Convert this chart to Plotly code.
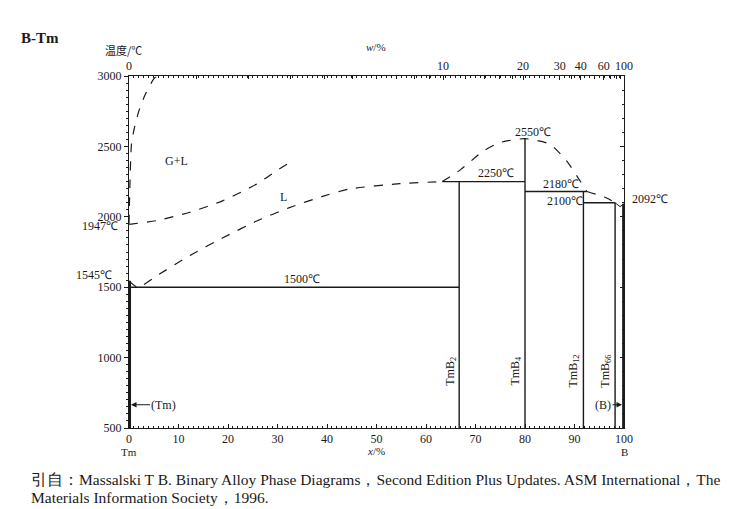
import plotly.graph_objects as go

# ---------------- data (x in at.% B, T in °C) ----------------
liq_x = [0, 1.8, 6, 12.3, 18.9, 25.8, 32.4, 39.1, 44.6, 54.7, 63.3]
liq_T = [1545, 1500, 1590, 1725, 1850, 1970, 2065, 2145, 2198, 2235, 2250]

dome_x = [63.3, 67, 71.5, 75, 80, 85, 88.4, 91.1, 92.5]
dome_T = [2250, 2335, 2465, 2528, 2555, 2516, 2398, 2256, 2180]

liq2_x = [92.5, 96.5, 98.2]
liq2_T = [2180, 2134, 2100]

eut_b_x = [98.2, 99.2, 100]
eut_b_T = [2100, 2072, 2092]

gl_x = [0, 0.8, 5.6, 12.3, 19, 25.8, 29.8, 33.1]
gl_T = [1947, 1950, 1973, 2032, 2115, 2233, 2327, 2398]

gas_x = [0, 0.2, 0.5, 1.1, 2.0, 3.3, 5.2, 6.3]
gas_T = [1947, 2250, 2516, 2634, 2752, 2870, 2988, 3000]

# compounds: name, composition (at.% B), top temperature
comp_names = ["TmB<sub>2</sub>", "TmB<sub>4</sub>", "TmB<sub>12</sub>", "TmB<sub>66</sub>"]
comp_x = [66.7, 80, 91.8, 98.2]
comp_top = [2250, 2555, 2180, 2100]

# invariant lines: (x0, x1, T)
inv_x0 = [0, 63.3, 80, 91.8]
inv_x1 = [66.7, 80, 92.5, 98.2]
inv_T = [1500, 2250, 2180, 2100]

Tm_melt = 1545
B_melt = 2092

bottom_ticks = list(range(0, 101, 10))
left_ticks = [500, 1000, 1500, 2000, 2500, 3000]
wt_ticks = [0, 10, 20, 30, 40, 60, 100]
wt_minor = [1, 2, 3, 4, 5, 6, 7, 8, 9, 12, 14, 16, 18, 25, 35, 50, 70, 80, 90]

M_B, M_Tm = 10.81, 168.934


def wt_to_at(w):
    if w >= 100:
        return 100.0
    nb = w / M_B
    nt = (100 - w) / M_Tm
    return 100 * nb / (nb + nt)


SERIF = "Liberation Serif"
BLK = "#1a1a1a"

fig = go.Figure()

dash = dict(color=BLK, width=1.2, dash="dash")
solid = dict(color=BLK, width=1.4)

for xs, ts in [(liq_x, liq_T), (dome_x, dome_T), (liq2_x, liq2_T), (gl_x, gl_T), (gas_x, gas_T)]:
    fig.add_trace(go.Scatter(x=xs, y=ts, mode="lines", line=dict(**dash, shape="spline", smoothing=0.6),
                             hoverinfo="skip", showlegend=False))

fig.add_trace(go.Scatter(x=eut_b_x, y=eut_b_T, mode="lines", line=dict(color=BLK, width=1.0),
                         showlegend=False, hoverinfo="skip"))

for x0, x1, t in zip(inv_x0, inv_x1, inv_T):
    fig.add_trace(go.Scatter(x=[x0, x1], y=[t, t], mode="lines", line=solid, showlegend=False, hoverinfo="skip"))

for cx, ct in zip(comp_x, comp_top):
    fig.add_trace(go.Scatter(x=[cx, cx], y=[500, ct], mode="lines", line=solid, showlegend=False, hoverinfo="skip"))

# terminal solid solutions
fig.add_trace(go.Scatter(x=[0.15, 0.15], y=[500, Tm_melt], mode="lines", line=dict(color=BLK, width=2.6),
                         showlegend=False, hoverinfo="skip", cliponaxis=False))
fig.add_trace(go.Scatter(x=[99.85, 99.85], y=[500, B_melt], mode="lines", line=dict(color=BLK, width=2.2),
                         showlegend=False, hoverinfo="skip", cliponaxis=False))

# helper traces for the extra axes
fig.add_trace(go.Scatter(x=[0, 100], y=[3000, 3000], mode="lines", line=dict(width=0), xaxis="x2",
                         showlegend=False, hoverinfo="skip"))
fig.add_trace(go.Scatter(x=[0, 100], y=[3000, 3000], mode="lines", line=dict(width=0), xaxis="x3",
                         showlegend=False, hoverinfo="skip"))
fig.add_trace(go.Scatter(x=[100, 100], y=[500, 3000], mode="lines", line=dict(width=0), yaxis="y2",
                         showlegend=False, hoverinfo="skip"))

ann = []


def txt(x, y, s, size=12, **kw):
    d = dict(x=x, y=y, text=s, showarrow=False, font=dict(family=SERIF, size=size, color=BLK),
             xanchor="center", yanchor="middle")
    d.update(kw)
    ann.append(d)


txt(9.6, 2396, "G+L", 12)
txt(31.3, 2141, "L", 12)
txt(35, 1558, "1500℃", 12)
txt(74.1, 2311, "2250℃", 12)
txt(81.6, 2604, "2550℃", 12)
txt(87.2, 2233, "2180℃", 12)
txt(88.0, 2114, "2100℃", 12)

lab_x = [65.0, 78.1, 89.8, 96.3]
for name, lx in zip(comp_names, lab_x):
    txt(lx, 905, name, 12, textangle=-90)

# arrows
ann.append(dict(x=0.4, y=665, ax=33, ay=0, axref="pixel", ayref="pixel", text="(Tm)", showarrow=True,
                arrowhead=2, arrowsize=1, arrowwidth=1.1, arrowcolor=BLK,
                font=dict(family=SERIF, size=12, color=BLK)))
ann.append(dict(x=99.6, y=665, ax=-19, ay=0, axref="pixel", ayref="pixel", text="(B)", showarrow=True,
                arrowhead=2, arrowsize=1, arrowwidth=1.1, arrowcolor=BLK,
                font=dict(family=SERIF, size=12, color=BLK)))

L, R, T, B = 128.5, 126, 76, 81
W, H = 750, 509
pw, ph = W - L - R, H - T - B


def px(xp):
    return (xp - L) / pw


def py(yp):
    return (H - B - yp) / ph


# paper-level texts (positions given in picture pixels)
def ptxt(x, y, s, size=12, family=SERIF, xanchor="center", **kw):
    d = dict(x=px(x), y=py(y), xref="paper", yref="paper", text=s, showarrow=False,
             font=dict(family=family, size=size, color=BLK), xanchor=xanchor, yanchor="middle")
    d.update(kw)
    ann.append(d)


ptxt(630, 199, "2092℃", 12, xanchor="left")
ptxt(119, 226, "1947℃", 12, xanchor="right")
ptxt(113, 275, "1545℃", 12, xanchor="right")

ptxt(18, 38, "<b>B-Tm</b>", 15, xanchor="left")
ptxt(123, 50, "温度/℃", 11, family="Noto Sans CJK SC")
ptxt(376, 47, "<i>w</i>/%", 11)
ptxt(376, 451, "<i>x</i>/%", 11)
ptxt(129, 452, "Tm", 11)
ptxt(624, 452, "B", 11)
ptxt(28, 479, "引自：Massalski T B. Binary Alloy Phase Diagrams，Second Edition Plus Updates. ASM International，The",
     15.5, xanchor="left")
ptxt(28, 497, "Materials Information Society，1996.", 15.5, xanchor="left")

fig.update_layout(
    width=W, height=H,
    margin=dict(l=L, r=R, t=T, b=B, autoexpand=False),
    paper_bgcolor="white", plot_bgcolor="white",
    showlegend=False,
    annotations=ann,
    font=dict(family=SERIF, size=12, color=BLK),
    xaxis=dict(range=[0, 100], tickvals=bottom_ticks, ticks="inside", ticklen=4, tickcolor=BLK,
               showline=True, linecolor=BLK, linewidth=1, showgrid=False, zeroline=False,
               tickfont=dict(family=SERIF, size=12, color=BLK),
               minor=dict(dtick=1, ticks="inside", ticklen=2, tickcolor=BLK)),
    yaxis=dict(range=[500, 3000], tickvals=left_ticks, ticks="outside", ticklen=4, tickcolor=BLK,
               showline=True, linecolor=BLK, linewidth=1, showgrid=False, zeroline=False,
               tickfont=dict(family=SERIF, size=12, color=BLK),
               minor=dict(dtick=50, ticks="outside", ticklen=2, tickcolor=BLK)),
    xaxis2=dict(range=[0, 100], overlaying="x", side="top", anchor="y",
                tickvals=[wt_to_at(w) for w in wt_ticks], ticktext=[str(w) for w in wt_ticks],
                ticks="inside", ticklen=4, tickcolor=BLK, showline=True, linecolor=BLK, linewidth=1,
                showgrid=False, zeroline=False, tickfont=dict(family=SERIF, size=12, color=BLK),
                minor=dict(tickvals=[wt_to_at(w) for w in wt_minor], ticks="inside", ticklen=3, tickcolor=BLK)),
    xaxis3=dict(range=[0, 100], overlaying="x", side="top", anchor="y", showticklabels=False,
                tickmode="linear", tick0=0, dtick=1, ticks="inside", ticklen=2, tickcolor=BLK,
                showline=False, showgrid=False, zeroline=False),
    yaxis2=dict(range=[500, 3000], overlaying="y", side="right", anchor="x",
                showticklabels=False, ticks="inside", ticklen=4, tickvals=left_ticks, tickcolor=BLK,
                showline=True, linecolor=BLK, linewidth=1, showgrid=False, zeroline=False,
                minor=dict(dtick=100, ticks="inside", ticklen=2, tickcolor=BLK)),
)

fig.write_html("out.html", config={"displayModeBar": False},
               post_script="document.body.style.margin='0';document.body.style.padding='0';")
